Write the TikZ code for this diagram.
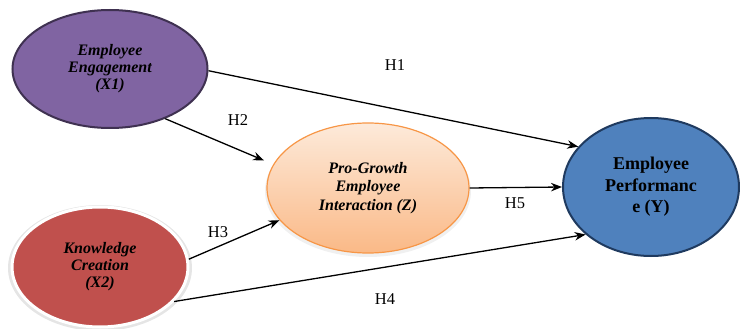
\documentclass[tikz,border=0pt]{standalone}
\usepackage{fontspec}
\setmainfont{Liberation Serif}
\usetikzlibrary{shapes.geometric,arrows.meta}
\definecolor{purpfill}{HTML}{8064A2}
\definecolor{purpline}{HTML}{3F3151}
\definecolor{redfill}{HTML}{C0504D}
\definecolor{orline}{HTML}{F79646}
\definecolor{ortop}{HTML}{FDEADA}
\definecolor{orbot}{HTML}{FAB987}
\definecolor{bluefill}{HTML}{4F81BD}
\definecolor{blueline}{HTML}{1F3A5F}
\begin{document}
\begin{tikzpicture}[x=1pt,y=-1pt,
  latent/.style={ellipse, inner sep=0pt, align=center,
    font=\fontsize{16}{17}\selectfont\bfseries\itshape},
  conn/.style={-{Stealth[length=11pt,width=8.5pt]}, line width=1.3pt},
  hlabel/.style={font=\fontsize{16.5}{18}\selectfont}]
\useasboundingbox (0,0) rectangle (740,329);
% soft halos
\fill[black!10] (100,268) ellipse [x radius=92, y radius=63];
\fill[black!6] (368,191) ellipse [x radius=103, y radius=66];
% nodes
\node[latent, fill=purpfill, draw=purpline, line width=2pt,
  minimum width=195pt, minimum height=118pt] (x1) at (110,69)
  {Employee\\Engagement\\(X1)};
\node[latent, fill=redfill, draw=white, line width=3pt,
  minimum width=176pt, minimum height=120pt] (x2) at (100,267)
  {Knowledge\\Creation\\(X2)};
\node[latent, top color=ortop, bottom color=orbot, draw=orline, line width=1.2pt,
  minimum width=202pt, minimum height=130pt,
  font=\fontsize{16}{18.5}\selectfont\bfseries\itshape] (z) at (368,188)
  {Pro-Growth\\Employee\\Interaction (Z)};
\node[latent, fill=bluefill, draw=blueline, line width=2pt,
  minimum width=176pt, minimum height=138pt,
  font=\fontsize{18}{21.5}\selectfont\bfseries] (y) at (651,187)
  {Employee\\Performanc\\e (Y)};
% connectors
\draw[conn] (x1.-1) -- (y.151);
\draw[conn, shorten >=10pt] (x1.-42) -- (z.166);
\draw[conn] (x2.5) -- (z.200.6);
\draw[conn] (x2.-25) -- (y.216.6);
\draw[conn] (z.east) -- (y.west);
% labels
\node[hlabel] (h1) at (395,65) {H1};
\node[hlabel] (h2) at (238,120) {H2};
\node[hlabel] (h3) at (218,232) {H3};
\node[hlabel] (h4) at (385,299) {H4};
\node[hlabel] (h5) at (515,203) {H5};
\end{tikzpicture}
\end{document}
